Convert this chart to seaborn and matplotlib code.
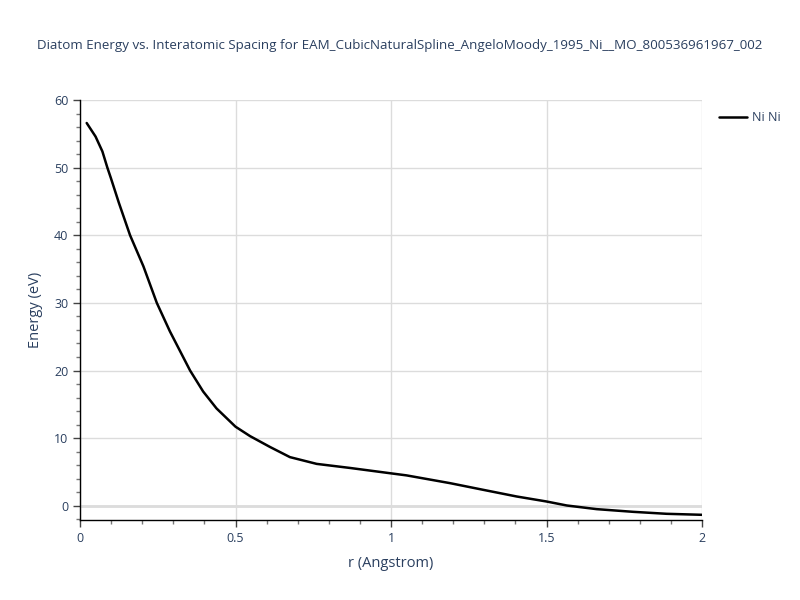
import seaborn as sns
import matplotlib.pyplot as plt
from matplotlib.ticker import MultipleLocator
import pandas as pd

# Values
r_values = [0.0215, 0.05, 0.072, 0.088, 0.099, 0.125, 0.161, 0.204, 0.247,
            0.289, 0.354, 0.396, 0.439, 0.5, 0.547, 0.611, 0.675, 0.761,
            0.868, 1.0, 1.05, 1.19, 1.297, 1.404, 1.5, 1.565, 1.661, 1.779,
            1.886, 2.0]
energy_values = [56.6, 54.6, 52.4, 50.0, 48.5, 44.8, 40.0, 35.4, 30.0,
                 25.8, 20.0, 16.9, 14.4, 11.7, 10.3, 8.7, 7.2, 6.2,
                 5.6, 4.8, 4.5, 3.35, 2.36, 1.38, 0.64, 0.05, -0.49, -0.89,
                 -1.18, -1.33]
series_label = "Ni Ni"
x_ticks = [0, 0.5, 1, 1.5, 2]
x_tick_labels = ["0", "0.5", "1", "1.5", "2"]
y_ticks = [0, 10, 20, 30, 40, 50, 60]

df = pd.DataFrame({"r": r_values, "E": energy_values, "pair": series_label})

sns.set_style("white")
plt.rcParams['font.family'] = ['Open Sans', 'DejaVu Sans']
text_color = "#2a3f5f"

fig = plt.figure(figsize=(8, 6), dpi=100)
ax = fig.add_axes([0.1, 0.1333, 0.7775, 0.7])

sns.lineplot(data=df, x="r", y="E", hue="pair", palette=["black"],
             linewidth=1.8, ax=ax, legend=True)

ax.set_xlim(0, 2)
ax.set_ylim(-2.1, 60)

# Grid
ax.set_xticks(x_ticks)
ax.set_xticklabels(x_tick_labels)
ax.set_yticks(y_ticks)
ax.grid(True, which="major", color="#dcdcdc", linewidth=1)
ax.set_axisbelow(True)
ax.axhline(0, color="#dcdcdc", linewidth=2, zorder=0)

# Axes lines and ticks
for side in ["top", "right"]:
    ax.spines[side].set_visible(False)
for side in ["left", "bottom"]:
    ax.spines[side].set_color("black")
    ax.spines[side].set_linewidth(1)
ax.xaxis.set_minor_locator(MultipleLocator(0.1))
ax.yaxis.set_minor_locator(MultipleLocator(2))
ax.tick_params(which="major", direction="out", length=5, width=1,
               color="#444444", labelsize=9, labelcolor=text_color,
               left=True, bottom=True)
ax.tick_params(which="minor", direction="out", length=3, width=1,
               color="#777777", left=True, bottom=True)

ax.set_xlabel("r (Angstrom)", fontsize=10.5, color=text_color, labelpad=8)
ax.set_ylabel("Energy (eV)", fontsize=10.5, color=text_color, labelpad=8)

fig.suptitle("Diatom Energy vs. Interatomic Spacing for "
             "EAM_CubicNaturalSpline_AngeloMoody_1995_Ni__MO_800536961967_002",
             fontsize=9.6, color=text_color, y=0.935)

leg = ax.legend(loc="upper left", bbox_to_anchor=(1.02, 0.985), frameon=False,
                fontsize=9, handlelength=2.2, handletextpad=0.4, borderaxespad=0)
for t in leg.get_texts():
    t.set_color(text_color)

fig.savefig("out.png", dpi=100)
